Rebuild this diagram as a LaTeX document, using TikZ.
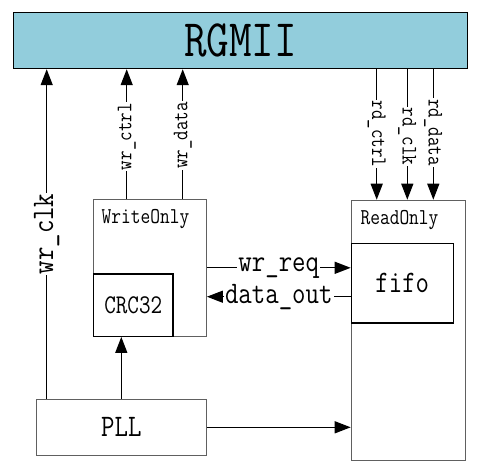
\documentclass[tikz,border=0pt]{standalone}
\usepackage{fontspec}
\usetikzlibrary{arrows.meta}
\newcommand\mytxt[2]{{\ttfamily\fontsize{#1}{#1}\selectfont\scalebox{1}[1.2]{#2}}}
\definecolor{rgblue}{HTML}{92CDDC}
\definecolor{boxgray}{HTML}{606060}
\tikzset{
  thinbox/.style={draw=boxgray, line width=0.9pt, inner sep=0pt},
  thickbox/.style={draw=black, line width=1.2pt, inner sep=0pt},
  arr/.style={line width=1.3pt, -{Triangle[length=16pt,width=12pt]}},
  lab/.style={fill=white, inner sep=1pt},
}
\begin{document}
\begin{tikzpicture}[x=1pt,y=-1pt]
\useasboundingbox[fill=white] (0,0) rectangle (492,469);
% boxes
\node[thickbox, fill=rgblue, minimum width=454pt, minimum height=56pt, anchor=north west] (rgmii) at (13,12) {\mytxt{43.8}{RGMII}};
\node[thinbox, minimum width=113pt, minimum height=136.7pt, anchor=north west] (wo) at (93,199) {};
\node[thinbox, minimum width=114pt, minimum height=260.6pt, anchor=north west] (ro) at (350.7,199.7) {};
\node[thinbox, minimum width=170.3pt, minimum height=56.3pt, anchor=north west] (pll) at (35.7,398.7) {\mytxt{26.1}{PLL}};
\node[thickbox, minimum width=79.3pt, minimum height=62.4pt, anchor=north west] (crc) at (93,273.3) {\mytxt{22.5}{CRC32}};
\node[thickbox, minimum width=102pt, minimum height=79.6pt, anchor=north west] (fifo) at (350.7,242.7) {\mytxt{26.1}{fifo}};
\node[inner sep=0pt] (wolab) at (145.5,219.5) {\mytxt{18.9}{WriteOnly}};
\node[inner sep=0pt] (rolab) at (399.5,220.5) {\mytxt{18.9}{ReadOnly}};
% coordinates
\coordinate (wrclk) at (46.7,398.7);
\coordinate (wrctrl) at (126.7,199);
\coordinate (wrdata) at (182.7,199);
\coordinate (rdctrl) at (376.7,68);
\coordinate (rdclk) at (407.3,68);
\coordinate (rddata) at (433.3,68);
\coordinate (dout) at (350.7,296.7);
% connectors
\draw[arr] (wrclk) -- (wrclk |- rgmii.south) node[lab, midway, rotate=90] (lwrclk) {\mytxt{26.1}{wr\_clk}};
\draw[arr] (wrctrl) -- (wrctrl |- rgmii.south) node[lab, pos=0.48, rotate=90] (lwrctrl) {\mytxt{18.5}{wr\_ctrl}};
\draw[arr] (wrdata) -- (wrdata |- rgmii.south) node[lab, pos=0.49, rotate=90] (lwrdata) {\mytxt{18.5}{wr\_data}};
\draw[arr] (rdctrl) -- (rdctrl |- ro.north) node[lab, pos=0.5, rotate=-90] (lrdctrl) {\mytxt{18.5}{rd\_ctrl}};
\draw[arr] (rdclk) -- (rdclk |- ro.north) node[lab, pos=0.52, rotate=-90] (lrdclk) {\mytxt{18.5}{rd\_clk}};
\draw[arr] (rddata) -- (rddata |- ro.north) node[lab, pos=0.49, rotate=-90] (lrddata) {\mytxt{18.5}{rd\_data}};
\draw[arr] (wo.east) -- (wo.east -| fifo.west) node[lab, midway] (lwrreq) {\mytxt{26.1}{wr\_req}};
\draw[arr] (dout) -- (dout -| wo.east) node[lab, midway] (ldout) {\mytxt{26.1}{data\_out}};
\draw[arr] (pll.north) -- (pll.north |- crc.south);
\draw[arr] (pll.east) -- (pll.east -| ro.west);
\end{tikzpicture}
\end{document}
